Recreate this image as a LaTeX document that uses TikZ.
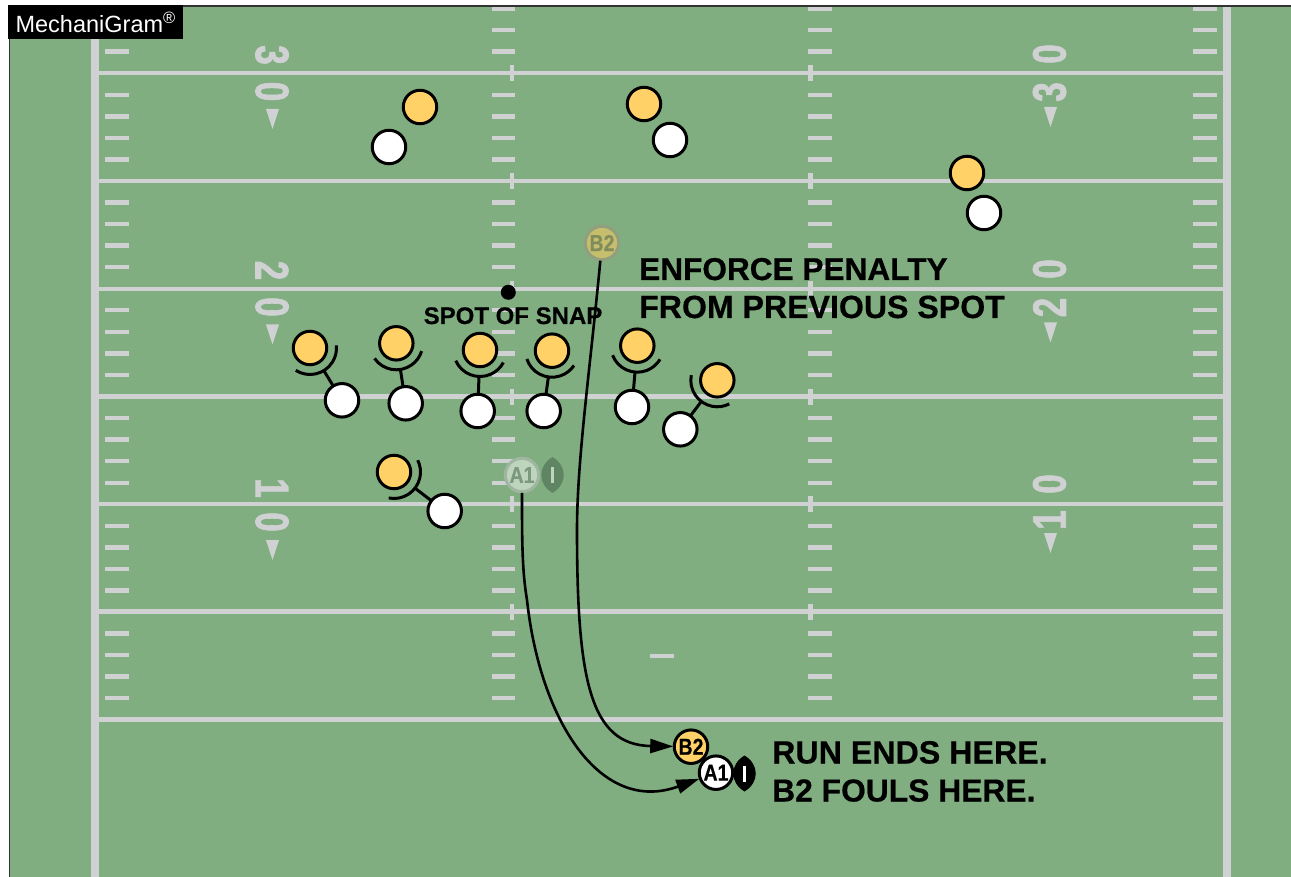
\documentclass[tikz,border=0pt]{standalone}
\usepackage{fontspec}
\setmainfont{Liberation Sans}[BoldFeatures={FakeBold=0.5}]
\newfontfamily\digitfont{Liberation Sans Bold}[FakeBold=1.6]
\usetikzlibrary{arrows.meta,calc,shapes.geometric}
\definecolor{turf}{HTML}{81AE80}
\definecolor{chalk}{HTML}{CFD1D3}
\definecolor{gold}{HTML}{FFD166}
\definecolor{ghostgold}{HTML}{C6BE6C}
\definecolor{ghostring}{HTML}{929F7E}
\definecolor{ghostbtext}{HTML}{7F8C5C}
\definecolor{ghostwhite}{HTML}{BDD4BD}
\definecolor{ghostaring}{HTML}{A0B6A2}
\definecolor{ghostatext}{HTML}{7C987F}
\definecolor{ghostball}{HTML}{5F8563}
\newcommand{\fs}[1]{\fontsize{#1}{#1}\selectfont}
\newcommand{\blockmark}[2]{%
  \draw[blockline] let \p1=($(#2)-(#1)$), \n1={atan2(\y1,\x1)} in
    ($(#1)+(\n1-64:26.5pt)$) arc[start angle=\n1-64, delta angle=128, radius=26.5pt];
  \draw[blockline] ($(#1)!26.5pt!(#2)$) -- (#2);
}
\newcommand{\football}[4]{% x, y, fill, stripe
  \fill[#3] (#1,#2-18) .. controls (#1+15,#2-9) and (#1+15,#2+9) .. (#1,#2+18)
     .. controls (#1-15,#2+9) and (#1-15,#2-9) .. (#1,#2-18) -- cycle;
  \draw[#4,line width=3pt] (#1,#2-8) -- (#1,#2+8);
}
\tikzset{
  hashmark/.style={chalk,line width=4.4pt},
  yardline/.style={chalk,line width=4.4pt},
  sideline/.style={chalk,line width=8pt},
  blockline/.style={black,line width=3pt},
  gamer/.style={circle,draw=black,line width=3pt,minimum size=33.5pt,inner sep=0pt,outer sep=1pt},
  defplayer/.style={gamer,fill=gold},
  offplayer/.style={gamer,fill=white},
  tag/.style={font=\fs{23}\bfseries},
  ghostb/.style={gamer,fill=ghostgold,draw=ghostring,text=ghostbtext},
  ghosta/.style={gamer,fill=ghostwhite,draw=ghostaring,text=ghostatext},
  yardnum/.style={chalk,inner sep=0pt,font=\fs{47}\digitfont},
  yardtri/.style={fill=chalk,draw=none},
  runpath/.style={black,line width=2.6pt,-{Triangle[length=23pt,width=14pt]}},
  callout/.style={anchor=base west,inner sep=0pt},
}
\newcommand{\sqz}[1]{\scalebox{0.75}[1]{#1}}
\newcommand{\sqt}[1]{\scalebox{0.85}[1]{#1}}
\begin{document}
\begin{tikzpicture}[x=1pt,y=-1pt]
\useasboundingbox (0,0) rectangle (1291,877);
\clip (0,0) rectangle (1291,877);
\fill[white] (0,0) rectangle (1291,877);
\fill[turf] (9,6) rectangle (1291,877);
% yard lines
\foreach \ly in {73.3,181,289,396.5,504,611.5,719.3}
  \draw[yardline] (95,\ly) -- (1227,\ly);
% centre ticks
\foreach \ly in {73.3,181,289,396.5,504,611.5}{
  \draw[hashmark] (512,\ly-8) -- (512,\ly+8);
  \draw[hashmark] (810.5,\ly-8) -- (810.5,\ly+8);
}
% hash marks
\foreach \k in {0,1,2,4,5,6,7,9,10,11,12,14,15,16,17,19,20,21,22,24,25,26,27,29,30,31,32}
  \foreach \hx in {105,491.7,808,1193.3}
    \draw[hashmark] (\hx,8.6+21.55*\k) -- (\hx+23.5,8.6+21.55*\k);
\draw[hashmark] (650,655.7) -- (673.5,655.7);
% sidelines
\draw[sideline] (94.8,6) -- (94.8,877);
\draw[sideline] (1226.8,6) -- (1226.8,877);
% yard numbers left
\node[yardnum,rotate=-90] (n1) at (272,55) {\sqz{3}};
\node[yardnum,rotate=-90] (n2) at (272,91.5) {\sqz{0}};
\node[yardnum,rotate=-90] (n3) at (272,270.5) {\sqz{2}};
\node[yardnum,rotate=-90] (n4) at (272,307) {\sqz{0}};
\node[yardnum,rotate=-90] (n5) at (272,488) {\sqz{1}};
\node[yardnum,rotate=-90] (n6) at (272,522) {\sqz{0}};
% yard numbers right
\node[yardnum,rotate=90] (n7) at (1049.5,54) {\sqz{0}};
\node[yardnum,rotate=90] (n8) at (1049.5,92) {\sqz{3}};
\node[yardnum,rotate=90] (n9) at (1049.5,269) {\sqz{0}};
\node[yardnum,rotate=90] (n10) at (1049.5,307.5) {\sqz{2}};
\node[yardnum,rotate=90] (n11) at (1049.5,484) {\sqz{0}};
\node[yardnum,rotate=90] (n12) at (1049.5,520) {\sqz{1}};
% triangles
\foreach \ty in {109,324.5,540}
  \fill[yardtri] (266,\ty) -- (279,\ty) -- (272.5,\ty+20) -- cycle;
\foreach \ty in {107,322.5,533}
  \fill[yardtri] (1044,\ty) -- (1057,\ty) -- (1050.5,\ty+20) -- cycle;
% borders
\draw[black!80,line width=1.6pt] (9.5,877) -- (9.5,6) -- (1291,6);
% badge
\node[fill=black,text=white,minimum width=175pt,minimum height=34pt,inner sep=0pt,anchor=north west,font=\fs{23.5}] (badge) at (8,5) {MechaniGram\textsuperscript{®}};
% spot
\node[circle,fill=black,minimum size=15pt,inner sep=0pt] (spot) at (508.3,292.3) {};
\node[font=\fs{24}\bfseries,inner sep=0pt,anchor=base] (spotlabel) at (513,324) {SPOT OF SNAP};
% callouts
\node[callout,font=\fs{31.6}\bfseries] (c1) at (639,280) {ENFORCE PENALTY};
\node[callout,font=\fs{32.1}\bfseries] (c2) at (639,318) {FROM PREVIOUS SPOT};
\node[callout,font=\fs{32.2}\bfseries] (c3) at (772,763.5) {RUN ENDS HERE.};
\node[callout,font=\fs{31.8}\bfseries] (c4) at (772,801.5) {B2 FOULS HERE.};
% players: coordinates
\coordinate (y1) at (310,348); \coordinate (w1) at (342,400.3);
\coordinate (y2) at (396.3,343.3); \coordinate (w2) at (405.7,403.3);
\coordinate (y3) at (480,350); \coordinate (w3) at (477.7,411);
\coordinate (y4) at (552,350.7); \coordinate (w4) at (543.7,411);
\coordinate (y5) at (637.3,345.7); \coordinate (w5) at (632,407);
\coordinate (y6) at (717.3,380.3); \coordinate (w6) at (680.3,429.3);
\coordinate (y7) at (394,472); \coordinate (w7) at (444.7,511);
\foreach \i in {1,...,7} {\blockmark{y\i}{w\i}}
\foreach \i in {1,...,7} {
  \node[defplayer] at (y\i) {};
  \node[offplayer] at (w\i) {};
}
\node[defplayer] (t1) at (420,107) {};
\node[offplayer] (t2) at (389,147) {};
\node[defplayer] (t3) at (644,104) {};
\node[offplayer] (t4) at (670,140) {};
\node[defplayer] (t5) at (967,173) {};
\node[offplayer] (t6) at (984,213) {};
% ghost ball carrier and defender
\football{552.5}{475}{ghostball}{ghostwhite}
\node[ghostb,tag] (gb) at (602,243) {\sqt{B2}};
\node[ghosta,tag] (ga) at (522,475) {\sqt{A1}};
% end positions
\football{744.5}{773.5}{black}{white}
\node[defplayer,tag] (eb) at (691,746.7) {\sqt{B2}};
\node[offplayer,tag] (ea) at (716,772.7) {\sqt{A1}};
% run paths
\coordinate (bm) at (577,530);
\coordinate (am) at (527,600);
\draw[runpath] (gb) .. controls (590,370) and (577,460) .. (bm) .. controls (577,680) and (590,745) .. (eb);
\draw[runpath] (ga) .. controls (522,540) and (522,570) .. (am) .. controls (540,720) and (600,815) .. (ea);
\end{tikzpicture}
\end{document}
